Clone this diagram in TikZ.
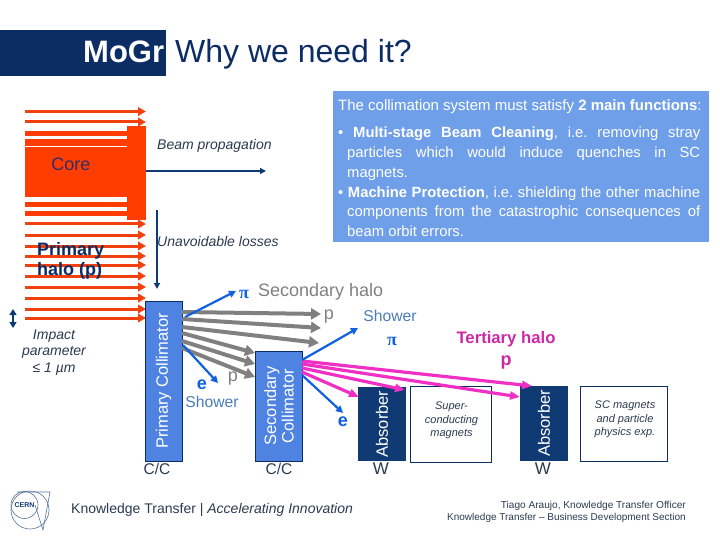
\documentclass[tikz,border=0pt]{standalone}
\usepackage{fontspec}
\setmainfont{Liberation Sans}
\newfontfamily\pifont{Liberation Serif}
\usepackage{xcolor}
\usetikzlibrary{arrows.meta,positioning}
\definecolor{navy}{HTML}{0C2C64}
\definecolor{absorb}{HTML}{0F3A73}
\definecolor{panel}{HTML}{709FEA}
\definecolor{collim}{HTML}{4F83E2}
\definecolor{beamred}{HTML}{FF3D00}
\definecolor{halored}{HTML}{F2400F}
\definecolor{halogrey}{HTML}{808080}
\definecolor{elec}{HTML}{1060E0}
\definecolor{shower}{HTML}{4A7DB8}
\definecolor{tertiary}{HTML}{F030C4}
\definecolor{textink}{HTML}{2A3A50}
\newcommand{\px}[1]{\fontsize{#1}{#1}\selectfont}
\tikzset{
  lab/.style={inner sep=0pt,align=center},
  smallitalic/.style={lab,font=\px{14}\itshape,text=textink},
  collbox/.style={draw=navy,fill=collim,line width=0.8pt,rotate=90,inner sep=0pt,
                  align=center,text=white,font=\px{16.5}},
  absbox/.style={fill=absorb,rotate=90,inner sep=0pt,text=white,font=\px{16.5}},
  magbox/.style={draw=navy,fill=white,line width=0.8pt,inner sep=0pt},
  maglab/.style={lab,font=\px{11}\itshape,text=textink},
  arrowbeam/.style={-{Stealth[inset=0pt,length=8pt,width=8.5pt]},line width=3pt,halored},
  arrownavy/.style={-{Stealth[inset=0pt,length=6pt,width=6pt]},line width=1.4pt,absorb},
  arrowgrey/.style={-{Stealth[inset=0pt,length=10pt,width=11pt]},line width=4pt,halogrey},
  arrowblue/.style={-{Stealth[inset=0pt,length=7pt,width=7pt]},line width=2.2pt,elec},
  arrowpink/.style={-{Stealth[inset=0pt,length=10pt,width=8pt]},line width=3.2pt,tertiary},
}
\begin{document}
\begin{tikzpicture}[x=1pt,y=-1pt]
  \useasboundingbox(0,0)rectangle(720,540);
  % Title
  \node[fill=navy,minimum width=166pt,minimum height=46pt,inner sep=0pt,anchor=north west]
    (titlebox) at (0,30) {};
  \node[lab,anchor=base west,font=\px{31}\bfseries,text=white] (mogr) at (83,62.5) {MoGr};
  \node[lab,anchor=base west,font=\px{32},text=navy] (why) at (175,62.5) {Why we need it?};

  % Functions panel
  \node[fill=panel,minimum width=376pt,minimum height=151pt,inner sep=0pt,anchor=north west]
    (panelbox) at (333,91) {};
  \node[lab,anchor=base west,font=\px{15},text=white] (panelhead) at (338,110.5)
    {The collimation system must satisfy \textbf{2 main functions}:};
  \node[anchor=north west,inner sep=0pt,text width=362pt,align=justify,text=white] (panelbody)
    at (338,127){%
    \fontsize{14.8}{19.7}\selectfont\frenchspacing
    \hangindent=9pt\hangafter=1
    • \textbf{Multi-stage Beam Cleaning}, i.e. removing stray\linebreak
    particles which would induce quenches in SC\linebreak
    magnets.\par
    \hangindent=9pt\hangafter=1
    • \textbf{Machine Protection}, i.e. shielding the other machine\linebreak
    components from the catastrophic consequences of\linebreak
    beam orbit errors.\par};

  % Beam core
  \fill[beamred](25,147)rectangle(131,197);
  \fill[beamred](127,126)rectangle(146,220);
  \foreach \ya/\yb in {131/136,139/146,202/207,211/216}
    \fill[beamred](25,\ya)rectangle(128,\yb);
  % Halo arrows
  \foreach \y [count=\i] in {111.5,122,224,235,246,256,265,276,287,298,309,318}{
    \coordinate (bs\i) at (25,\y);
    \coordinate (bt\i) at (146,\y);
    \draw[arrowbeam](bs\i)--(bt\i);
  }
  \node[lab,font=\px{18},text={rgb,255:red,50;green,45;blue,105}] (core) at (71,164.5) {Core};
  \node[lab,anchor=north west,align=left,font=\px{18}\bfseries,text=navy] (primhalo) at (37,242)
    {Primary\\[2pt]halo (p)};

  % Beam direction and losses
  \coordinate (propfrom) at (146,171);
  \coordinate (propto) at (266,171);
  \draw[arrownavy](propfrom)--(propto);
  \node[smallitalic,anchor=west] (proplab) at (157,146) {Beam propagation};
  \coordinate (lossfrom) at (157,210);
  \coordinate (lossto) at (157,289);
  \draw[arrownavy](lossfrom)--(lossto);
  \node[smallitalic,anchor=west] (losslab) at (157,241) {Unavoidable losses};

  % Impact parameter
  \coordinate (impacttop) at (13,309);
  \coordinate (impactbot) at (13,328);
  \draw[{Stealth[inset=0pt,length=6pt,width=7pt]}-{Stealth[inset=0pt,length=6pt,width=7pt]},
    line width=1.4pt,absorb](impacttop)--(impactbot);
  \node[smallitalic] (impact) at (54,352.5)
    {Impact\\[2.5pt]parameter\\[2.5pt]≤ 1 µm};

  % Collimators and absorbers
  \node[collbox,minimum width=160pt,minimum height=37pt] (primary) at (163.5,381)
    {\raisebox{-1.5pt}{Primary Collimator}};
  \node[collbox,minimum width=110pt,minimum height=47.5pt] (secondary) at (279,406)
    {Secondary\\[1pt]Collimator};
  \node[absbox,minimum width=74pt,minimum height=48pt] (absa) at (382,424) {Absorber};
  \node[absbox,minimum width=75pt,minimum height=48pt] (absb) at (544,423.5) {Absorber};
  \node[magbox,minimum width=81pt,minimum height=75.5pt] (magnets) at (451,424.3) {};
  \node[maglab] (magnetslab) at (451.5,420.5) {Super-\\[2.5pt]conducting\\[2.5pt]magnets};
  \node[magbox,minimum width=87pt,minimum height=74.5pt] (scexp) at (623.5,423.7) {};
  \node[maglab] (scexplab) at (625,419.5) {SC magnets\\[2.5pt]and particle\\[2.5pt]physics exp.};
  \node[lab,font=\px{15.5},text=textink] (cca) at (157,468.5) {C/C};
  \node[lab,font=\px{15.5},text=textink] (ccb) at (279,468.5) {C/C};
  \node[lab,font=\px{17},text=textink] (wa) at (381,468.5) {W};
  \node[lab,font=\px{17},text=textink] (wb) at (543,468.5) {W};

  % Secondary halo
  \foreach \ya/\xb/\yb [count=\i] in
    {312/321/314,319/321/328,327/319/343,333/255/353,341/255/364,348/255/377}{
    \coordinate (gs\i) at (182,\ya);
    \coordinate (gt\i) at (\xb,\yb);
    \draw[arrowgrey](gs\i)--(gt\i);
  }
  % Tertiary halo
  \foreach \ya/\xb/\yb [count=\i] in
    {361/532/386,364/520/397,368/405/390,372/359/397}{
    \coordinate (ms\i) at (302,\ya);
    \coordinate (mt\i) at (\xb,\yb);
    \draw[arrowpink](ms\i)--(mt\i);
  }
  % Shower products
  \foreach \xa/\ya/\xb/\yb [count=\i] in
    {185/317/236/291,183/345/218/383,302/360/358/328,302/375/343/413}{
    \coordinate (es\i) at (\xa,\ya);
    \coordinate (et\i) at (\xb,\yb);
    \draw[arrowblue](es\i)--(et\i);
  }
  \node[lab,anchor=west,font=\px{18},text=halogrey] (sechalo) at (258,292) {Secondary halo};
  \node[lab,font=\px{18}\bfseries\pifont,text=elec] (pia) at (244,294) {π};
  \node[lab,font=\px{18}\bfseries\pifont,text=elec] (pib) at (392,341) {π};
  \node[lab,font=\px{18}\bfseries,text=elec] (ea) at (202,385) {e};
  \node[lab,font=\px{18}\bfseries,text=elec] (eb) at (343,422) {e};
  \node[lab,font=\px{18},text=halogrey] (pa) at (329,317) {p};
  \node[lab,font=\px{18},text=halogrey] (pb) at (233,379) {p};
  \node[lab,font=\px{15.7},text=shower] (showa) at (212,402) {Shower};
  \node[lab,font=\px{15.7},text=shower] (showb) at (390,315.5) {Shower};
  \node[lab,font=\px{16.7}\bfseries,text=tertiary!85!black] (terthalo) at (506,339) {Tertiary halo};
  \node[lab,font=\px{18}\bfseries,text=tertiary!85!black] (pc) at (506,363) {p};

  % Footer
  \node[lab,anchor=west,font=\px{14},text=textink] (foota) at (71,510)
    {Knowledge Transfer | \textit{Accelerating Innovation}};
  \node[lab,anchor=east,font=\px{10.1},text=textink] (footb) at (686,506)
    {Tiago Araujo, Knowledge Transfer Officer};
  \node[lab,anchor=east,font=\px{10},text=textink] (footc) at (686,518)
    {Knowledge Transfer -- Business Development Section};

  % CERN logo
  \begin{scope}[color=absorb!70!white,line width=0.6pt]
    \draw(24.5,505)circle[radius=13.5];
    \draw(30,510)circle[radius=19];
    \draw(17,492)--(50,492)--(43,530)--(35,505);
  \end{scope}
  \node[lab,font=\px{7}\bfseries,text=absorb] (cern) at (24.5,505) {CERN};
\end{tikzpicture}
\end{document}
